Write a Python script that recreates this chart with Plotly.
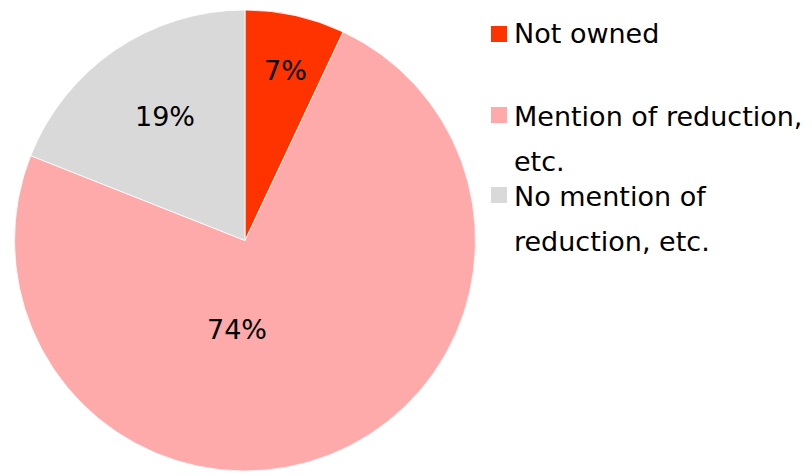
import plotly.graph_objects as go

categories = ["Not owned", "Mention of reduction, etc.", "No mention of reduction, etc."]
legend_lines = [["Not owned"], ["Mention of reduction,", "etc."], ["No mention of", "reduction, etc."]]
shares = [7, 74, 19]
colors = ["#FF3300", "#FFAAAA", "#D9D9D9"]

W, H = 812, 476
FONT = "DejaVu Sans"

fig = go.Figure(
    go.Pie(
        labels=categories,
        values=shares,
        sort=False,
        direction="clockwise",
        rotation=0,
        marker=dict(colors=colors, line=dict(color="white", width=0.8)),
        textinfo="none",
        domain=dict(x=[14 / W, 476 / W], y=[1 - 471 / H, 1 - 10 / H]),
        showlegend=False,
        hoverinfo="label+percent",
    )
)

# Percentage labels placed inside each slice (pixel centres in the page)
label_pos = [(285, 70), (237, 329), (165, 116)]
annotations = []
for (px, py), v in zip(label_pos, shares):
    annotations.append(dict(
        xref="paper", yref="paper", x=px / W, y=1 - py / H,
        xanchor="center", yanchor="middle",
        text=f"{v}%", showarrow=False,
        font=dict(family=FONT, size=27, color="black"),
    ))

# Legend drawn as colour swatches with wrapped labels beside them
swatch_tops = [26, 107, 187]
line_centres = [[33.5], [116, 161], [196, 241]]
shapes = []
for top, col, lines, centres in zip(swatch_tops, colors, legend_lines, line_centres):
    shapes.append(dict(
        type="rect", xref="paper", yref="paper",
        x0=491 / W, x1=507 / W, y0=1 - (top + 16) / H, y1=1 - top / H,
        fillcolor=col, line=dict(width=0),
    ))
    for txt, cy in zip(lines, centres):
        annotations.append(dict(
            xref="paper", yref="paper", x=512 / W, y=1 - cy / H,
            xanchor="left", yanchor="middle", align="left",
            text=txt, showarrow=False,
            font=dict(family=FONT, size=27, color="black"),
        ))

fig.update_layout(
    width=W, height=H,
    margin=dict(l=0, r=0, t=0, b=0),
    paper_bgcolor="white", plot_bgcolor="white",
    shapes=shapes, annotations=annotations,
    font=dict(family=FONT),
)

fig.write_html("out.html")
